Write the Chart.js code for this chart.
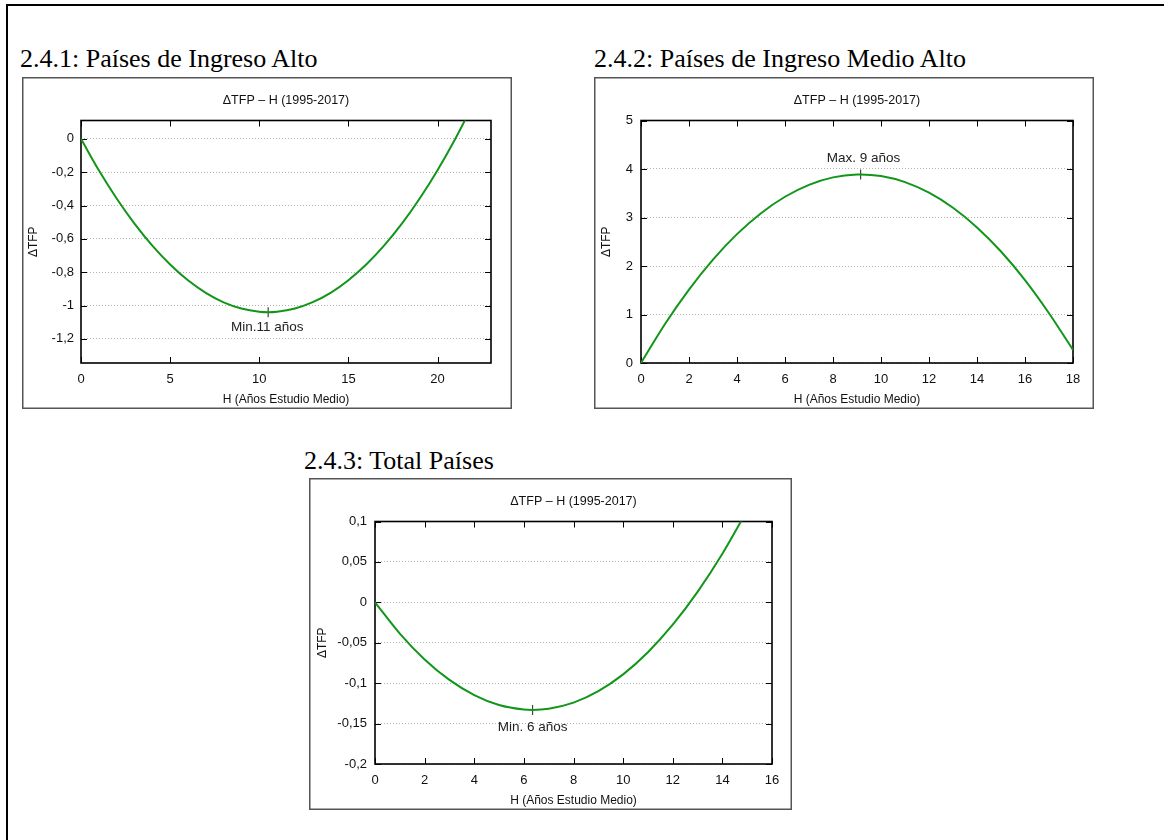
<!DOCTYPE html>
<html lang="es">
<head>
<meta charset="UTF-8">
<title>ΔTFP – H (1995-2017)</title>
<style type="text/css">
  body { margin: 0; background: #fff; }
  .page { position: relative; width: 1164px; height: 840px; overflow: hidden; }
  .frame { position: absolute; left: 6px; top: 4px; width: 1164px; height: 840px;
           border-left: 2px solid #000; border-top: 2px solid #000; }
  .heading { position: absolute; font-family: "Liberation Serif", "Times New Roman", serif;
             font-size: 26px; line-height: 26px; color: #000; white-space: nowrap; }
  .chartBox { position: absolute; }
</style>
</head>
<body>
<div class="page">
  <div class="frame"></div>

  <div class="heading" style="left:20px; top:46px;">2.4.1: Países de Ingreso Alto</div>
  <div class="heading" style="left:594px; top:46px;">2.4.2: Países de Ingreso Medio Alto</div>
  <div class="heading" style="left:304px; top:448px;">2.4.3: Total Países</div>

  <div class="chartBox" style="left:22px; top:77px; width:490px; height:332px;"><canvas id="chart1"></canvas></div>
  <div class="chartBox" style="left:594px; top:77px; width:500px; height:332px;"><canvas id="chart2"></canvas></div>
  <div class="chartBox" style="left:309px; top:478px; width:483px; height:332px;"><canvas id="chart3"></canvas></div>
</div>

<script src="https://cdn.jsdelivr.net/npm/chart.js"></script>
<script>
// --- 2.4.1 high income ---
const hAlto = [0, 1, 2, 3, 4, 5, 6, 7, 8, 9, 10, 10.5, 11, 12, 13, 14, 15, 16, 17, 18, 19, 20, 21, 22];
const tfpAlto = [0, -0.189, -0.358, -0.509, -0.641, -0.754, -0.849, -0.924, -0.981, -1.018, -1.037, -1.040,
                 -1.037, -1.018, -0.980, -0.924, -0.848, -0.754, -0.641, -0.509, -0.358, -0.188, 0.001, 0.208];
const minAlto = { x: 10.5, y: -1.04 };
const xTicksAlto = [0, 5, 10, 15, 20];
const yTicksAlto = [-1.2, -1, -0.8, -0.6, -0.4, -0.2, 0];

// --- 2.4.2 upper middle income ---
const hMedio = [0, 1, 2, 3, 4, 5, 6, 7, 8, 9, 9.15, 10, 11, 12, 13, 14, 15, 16, 17, 18];
const tfpMedio = [0, 0.804, 1.514, 2.132, 2.657, 3.089, 3.428, 3.674, 3.827, 3.888, 3.889, 3.855,
                  3.730, 3.511, 3.200, 2.796, 2.299, 1.709, 1.026, 0.270];
const maxMedio = { x: 9.15, y: 3.889 };
const xTicksMedio = [0, 2, 4, 6, 8, 10, 12, 14, 16, 18];
const yTicksMedio = [0, 1, 2, 3, 4, 5];

// --- 2.4.3 all countries ---
const hTotal = [0, 1, 2, 3, 4, 5, 6, 6.35, 7, 8, 9, 10, 11, 12, 13, 14, 15];
const tfpTotal = [0, -0.0386, -0.0706, -0.0960, -0.1148, -0.1271, -0.1327, -0.1331, -0.1317, -0.1241,
                  -0.1099, -0.0891, -0.0617, -0.0277, 0.0129, 0.0601, 0.1138];
const minTotal = { x: 6.35, y: -0.1331 };
const xTicksTotal = [0, 2, 4, 6, 8, 10, 12, 14, 16];
const yTicksTotal = [-0.2, -0.15, -0.1, -0.05, 0, 0.05, 0.1];

const FONT = "'Liberation Sans', Arial, Helvetica, sans-serif";
const curveColor = '#11961a';

// comma decimals, as in the spanish originals
function fmt(v) {
  const r = Math.round(v * 1000) / 1000;
  return String(r).replace('.', ',');
}

// gnuplot-like plot border with inward ticks on all four sides, plus the outer box
const framePlugin = {
  id: 'gpFrame',
  beforeDraw(chart) {
    const ctx = chart.ctx;
    ctx.save();
    ctx.strokeStyle = '#555';
    ctx.lineWidth = 1.5;
    ctx.strokeRect(0.75, 0.75, chart.width - 1.5, chart.height - 1.5);
    ctx.restore();
  },
  beforeDatasetsDraw(chart) {
    const { ctx, chartArea: a, scales: { x, y } } = chart;
    const len = 6;
    ctx.save();
    ctx.strokeStyle = '#000';
    ctx.lineWidth = 1;
    ctx.beginPath();
    x.ticks.forEach(t => {
      const px = Math.round(x.getPixelForValue(t.value)) + 0.5;
      ctx.moveTo(px, a.bottom); ctx.lineTo(px, a.bottom - len);
      ctx.moveTo(px, a.top); ctx.lineTo(px, a.top + len);
    });
    y.ticks.forEach(t => {
      const py = Math.round(y.getPixelForValue(t.value)) + 0.5;
      ctx.moveTo(a.left, py); ctx.lineTo(a.left + len, py);
      ctx.moveTo(a.right, py); ctx.lineTo(a.right - len, py);
    });
    ctx.stroke();
    ctx.lineWidth = 1.6;
    ctx.strokeRect(a.left, a.top, a.right - a.left, a.bottom - a.top);
    ctx.restore();
  }
};

// text next to the extreme point (dataset 1)
const extremePlugin = {
  id: 'extremeLabel',
  afterDatasetsDraw(chart, args, opts) {
    const pt = chart.getDatasetMeta(1).data[0];
    if (!pt) return;
    const ctx = chart.ctx;
    ctx.save();
    ctx.font = '13.5px ' + FONT;
    ctx.fillStyle = '#222';
    ctx.textAlign = 'center';
    ctx.textBaseline = 'middle';
    ctx.fillText(opts.text, pt.x + (opts.dx || 0), pt.y + opts.dy);
    ctx.restore();
  }
};

function makeChart(id, cfg) {
  const points = cfg.xs.map((x, i) => ({ x: x, y: cfg.ys[i] }));
  return new Chart(document.getElementById(id), {
    type: 'line',
    data: {
      datasets: [{
        data: points,
        borderColor: curveColor,
        borderWidth: 2,
        pointRadius: 0,
        cubicInterpolationMode: 'monotone',
        clip: 0
      }, {
        data: [cfg.extreme],
        showLine: false,
        pointStyle: 'line',
        rotation: 90,
        pointRadius: 5,
        borderColor: '#444',
        borderWidth: 1.2
      }]
    },
    options: {
      responsive: true,
      maintainAspectRatio: false,
      animation: false,
      events: [],
      layout: { padding: { left: 0, top: 0, right: cfg.padRight, bottom: 0 } },
      plugins: {
        legend: { display: false },
        tooltip: { enabled: false },
        title: {
          display: true,
          fullSize: false,
          text: 'ΔTFP – H (1995-2017)',
          color: '#111',
          font: { family: FONT, size: 12.5, weight: 'normal' },
          padding: { top: 16.5, bottom: 12 }
        },
        extremeLabel: { text: cfg.label, dy: cfg.labelDy, dx: cfg.labelDx }
      },
      scales: {
        x: {
          type: 'linear',
          min: cfg.xMin,
          max: cfg.xMax,
          afterBuildTicks: s => { s.ticks = cfg.xTicks.map(v => ({ value: v })); },
          afterFit: s => { s.height = 46; },
          grid: { display: false, drawTicks: false },
          border: { display: false },
          ticks: { padding: 9, color: '#111', font: { family: FONT, size: 13 }, callback: fmt, maxRotation: 0 },
          title: { display: true, text: 'H (Años Estudio Medio)', color: '#111',
                   font: { family: FONT, size: 12 }, padding: { top: 0, bottom: 2 } }
        },
        y: {
          type: 'linear',
          min: cfg.yMin,
          max: cfg.yMax,
          afterBuildTicks: s => { s.ticks = cfg.yTicks.map(v => ({ value: v })); },
          afterFit: s => { s.width = cfg.yWidth; },
          grid: { color: '#b4b4b4', lineWidth: 1, drawTicks: false },
          border: { display: false, dash: [1, 2] },
          ticks: { padding: cfg.yPad, color: '#111', font: { family: FONT, size: 13 }, callback: fmt },
          title: { display: true, text: 'ΔTFP', color: '#111',
                   font: { family: FONT, size: 12 }, padding: { top: cfg.yTitlePad, bottom: 0 } }
        }
      }
    },
    plugins: [framePlugin, extremePlugin]
  });
}

makeChart('chart1', {
  xs: hAlto, ys: tfpAlto, extreme: minAlto, xTicks: xTicksAlto, yTicks: yTicksAlto,
  xMin: 0, xMax: 23, yMin: -1.345, yMax: 0.11, yWidth: 59, yPad: 7, yTitlePad: 4, padRight: 21,
  label: 'Min.11 años', dy: 0, labelDy: 15, labelDx: -1
});

makeChart('chart2', {
  xs: hMedio, ys: tfpMedio, extreme: maxMedio, xTicks: xTicksMedio, yTicks: yTicksMedio,
  xMin: 0, xMax: 18, yMin: 0, yMax: 5, yWidth: 47, yPad: 8, yTitlePad: 5.5, padRight: 21,
  label: 'Max. 9 años', labelDy: -16, labelDx: 3
});

makeChart('chart3', {
  xs: hTotal, ys: tfpTotal, extreme: minTotal, xTicks: xTicksTotal, yTicks: yTicksTotal,
  xMin: 0, xMax: 16, yMin: -0.2, yMax: 0.1, yWidth: 66, yPad: 8, yTitlePad: 6, padRight: 20,
  label: 'Min. 6 años', labelDy: 17, labelDx: 0
});
</script>
</body>
</html>
